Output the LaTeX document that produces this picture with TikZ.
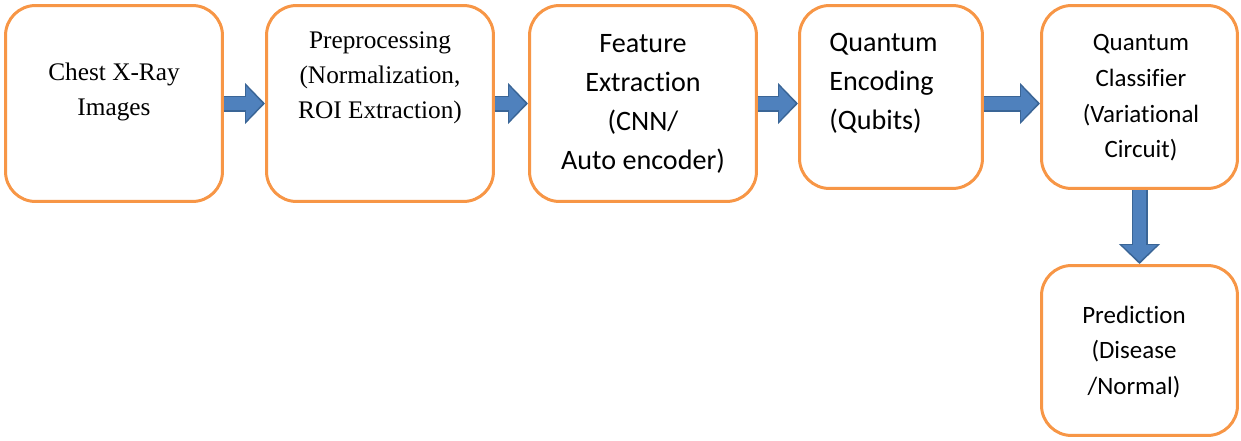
\documentclass[tikz,border=0pt]{standalone}
\usepackage{fontspec}
\newfontfamily\timesfont{Liberation Serif}
\newfontfamily\calibrifont[Ligatures=NoCommon]{Carlito}
\usetikzlibrary{arrows.meta}
\definecolor{boxorange}{HTML}{F79646}
\definecolor{arrowfill}{HTML}{4F81BD}
\definecolor{arrowedge}{HTML}{3A6596}
\tikzset{
	stage/.style={draw=boxorange, line width=0.06cm, rounded corners=0.6cm, fill=white, inner sep=0pt},
	serif/.style={font=\timesfont\fontsize{14.4}{20}\selectfont, align=center, inner sep=0pt},
	sans/.style={font=\calibrifont\fontsize{16}{22.2}\selectfont, align=center, inner sep=0pt},
	smallsans/.style={font=\calibrifont\fontsize{14.2}{20.3}\selectfont, align=center, inner sep=0pt},
	flowedge/.style={draw=arrowedge, line width=0.32cm, -{Triangle[width=0.8cm,length=0.4cm]}},
	flowfill/.style={draw=arrowfill, line width=0.25cm, shorten >=0.05cm, -{Triangle[width=0.68cm,length=0.33cm]}}
}

\begin{document}
\begin{tikzpicture}[x=0.02cm, y=-0.02cm]
		\useasboundingbox (0,0) rectangle (1241,440);
		% Boxes
		\node[stage, minimum width=4.34cm, minimum height=3.92cm] (chest) at (114,103.5) {};
		\node[stage, minimum width=4.54cm, minimum height=3.92cm] (prep) at (380,103.5) {};
		\node[stage, minimum width=4.54cm, minimum height=3.92cm] (feat) at (643,103.5) {};
		\node[stage, minimum width=3.66cm, minimum height=3.66cm] (enc) at (891,97) {};
		\node[stage, minimum width=3.92cm, minimum height=3.66cm] (cls) at (1139.5,97) {};
		\node[stage, minimum width=3.92cm, minimum height=3.4cm] (pred) at (1139.5,350.5) {};
		% Texts
		\node[serif] (chesttext) at (114,92) {Chest X-Ray\\Images};
		\node[serif] (preptext) at (380,78) {Preprocessing\\(Normalization,\\ROI Extraction)};
		\node[sans] (feattext) at (643,104) {Feature\\Extraction\\(CNN/\\Auto encoder)};
		\node[sans, align=left, anchor=west] (enctext) at (829,83) {Quantum\\Encoding\\(Qubits)};
		\node[smallsans] (clstext) at (1141,98) {Quantum\\Classifier\\(Variational\\Circuit)};
		\node[smallsans] (predtext) at (1134,352) {Prediction\\(Disease\\/Normal)};
		% Arrows
		\coordinate (a3) at (feat.east -| enc.west);
		\coordinate (s4) at (enc.east |- feat.east);
		\coordinate (a4) at (cls.west |- feat.east);
		\foreach \a/\b in {chest.east/prep.west, prep.east/feat.west, feat.east/a3, s4/a4, cls.south/pred.north} {
			\draw[flowedge] (\a) -- (\b);
			\draw[flowfill] (\a) -- (\b);
		}
	\end{tikzpicture}
\end{document}
